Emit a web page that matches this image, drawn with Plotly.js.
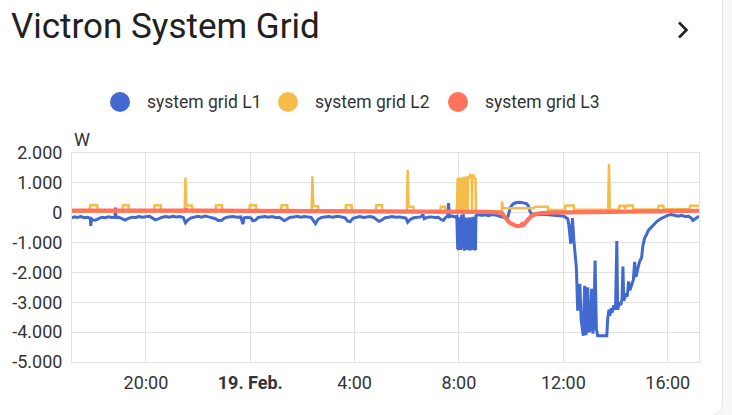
<!DOCTYPE html>
<html>
<head>
<meta charset="utf-8">
<script src="https://cdn.plot.ly/plotly-3.0.1.min.js"></script>
<style>
html,body{margin:0;padding:0;width:732px;height:415px;overflow:hidden;background:#f8f8f8;}
#card{position:absolute;left:-20px;top:-20px;width:743px;height:436px;background:#fff;border:1px solid #e3e3e3;border-radius:12px;box-sizing:border-box;}
#chart{position:absolute;left:0;top:0;width:732px;height:415px;}
</style>
</head>
<body>
<div id="card"></div>
<div id="chart"></div>
<script>
const DAY_PREFIX = '2025-02-';
const seriesNames = ['system grid L1', 'system grid L2', 'system grid L3'];
const seriesColors = ['#4269d0', '#f4bd4a', '#ff725c'];

const l1Points = [
["18 17:10",-170],["18 17:16",-140],["18 17:22",-160],["18 17:30",-130],["18 17:38",-170],["18 17:46",-150],["18 17:52",-190],["18 17:53",-440],["18 17:55",-210],["18 17:58",-240],["18 18:04",-250],["18 18:10",-200],["18 18:18",-150],["18 18:26",-170],["18 18:34",-140],["18 18:42",-160],["18 18:49",-150],["18 18:50",170],["18 18:51",-160],["18 18:58",-150],["18 19:06",-220],["18 19:12",-250],["18 19:20",-190],["18 19:28",-150],["18 19:36",-160],["18 19:44",-130],["18 19:52",-150],["18 20:00",-140],["18 20:08",-120],["18 20:16",-190],["18 20:22",-240],["18 20:30",-200],["18 20:38",-150],["18 20:46",-130],["18 20:54",-150],["18 21:02",-120],["18 21:10",-140],["18 21:18",-130],["18 21:26",-160],["18 21:31",-340],["18 21:36",-250],["18 21:44",-170],["18 21:52",-140],["18 22:00",-120],["18 22:08",-150],["18 22:16",-110],["18 22:24",-140],["18 22:32",-160],["18 22:40",-200],["18 22:46",-260],["18 22:54",-250],["18 23:02",-170],["18 23:10",-140],["18 23:20",-130],["18 23:30",-150],["18 23:38",-140],["18 23:43",-380],["18 23:46",-170],["18 23:54",-150],
["19 00:02",-180],["19 00:06",-270],["19 00:12",-250],["19 00:18",-160],["19 00:26",-140],["19 00:34",-130],["19 00:42",-150],["19 00:50",-130],["19 00:58",-160],["19 01:06",-150],["19 01:12",-200],["19 01:18",-270],["19 01:24",-220],["19 01:32",-150],["19 01:40",-140],["19 01:48",-120],["19 01:56",-150],["19 02:04",-130],["19 02:12",-140],["19 02:20",-160],["19 02:24",-240],["19 02:30",-370],["19 02:36",-220],["19 02:44",-160],["19 02:52",-140],["19 03:00",-130],["19 03:10",-150],["19 03:20",-120],["19 03:30",-140],["19 03:38",-170],["19 03:44",-280],["19 03:50",-300],["19 03:56",-190],["19 04:04",-150],["19 04:12",-130],["19 04:20",-160],["19 04:28",-140],["19 04:36",-130],["19 04:44",-160],["19 04:50",-230],["19 04:56",-290],["19 05:02",-250],["19 05:10",-170],["19 05:18",-150],["19 05:26",-130],["19 05:34",-150],["19 05:42",-140],["19 05:50",-160],["19 05:58",-180],["19 06:02",-320],["19 06:08",-230],["19 06:16",-170],["19 06:24",-150],["19 06:32",-140],["19 06:37",-60],["19 06:40",-200],["19 06:48",-150],["19 06:56",-140],["19 07:04",-160],["19 07:12",-150],["19 07:18",-220],["19 07:24",-260],["19 07:30",-150],["19 07:34",-120],["19 07:36",320],["19 07:38",-130],["19 07:44",-110],["19 07:50",-140],["19 07:55",-120],
["19 07:56",-1200],["19 07:57",-1210],["19 07:58",-200],["19 07:59",-1200],["19 08:01",-1190],["19 08:02",-150],["19 08:03",-1200],["19 08:05",-1200],["19 08:06",-110],["19 08:10",-100],["19 08:11",-1200],["19 08:12",-180],["19 08:13",-1210],["19 08:15",-1200],["19 08:16",-160],["19 08:17",-1200],["19 08:19",-1190],["19 08:20",-200],["19 08:21",-1200],["19 08:23",-1210],["19 08:24",-150],["19 08:25",-1200],["19 08:27",-1200],["19 08:28",-170],["19 08:29",-1200],["19 08:31",-1190],["19 08:32",-140],["19 08:33",-1200],["19 08:35",-1210],["19 08:36",-160],["19 08:37",-1200],["19 08:38",-1200],["19 08:39",-100],
["19 08:46",-60],["19 08:52",-90],["19 09:00",-70],["19 09:08",-100],["19 09:16",-60],["19 09:24",-80],["19 09:32",-110],["19 09:40",-130],["19 09:46",-170],["19 09:50",-220],["19 09:54",-60],["19 09:58",180],["19 10:04",290],["19 10:12",340],["19 10:20",350],["19 10:28",330],["19 10:36",300],["19 10:40",210],["19 10:44",20],["19 10:48",-60],["19 10:56",-40],["19 11:04",-70],["19 11:12",-50],["19 11:20",-60],["19 11:30",-80],["19 11:40",-90],["19 11:50",-100],["19 12:00",-110],["19 12:06",-150],["19 12:10",-200],
["19 12:13",-450],["19 12:17",-1040],["19 12:19",-600],["19 12:21",-180],["19 12:24",-900],["19 12:28",-1500],["19 12:30",-1850],["19 12:33",-3280],["19 12:36",-2800],["19 12:38",-2380],["19 12:41",-3600],["19 12:44",-4000],["19 12:46",-4120],["19 12:49",-2450],["19 12:52",-4100],["19 12:54",-3800],["19 12:56",-2500],["19 12:59",-4000],["19 13:02",-3900],["19 13:05",-2550],["19 13:08",-4050],["19 13:10",-3700],["19 13:13",-1600],["19 13:16",-3900],["19 13:19",-4120],["19 13:40",-4120],["19 13:42",-3550],["19 13:45",-3250],["19 13:47",-3450],["19 13:50",-3200],["19 13:52",-3350],["19 13:56",-3100],["19 14:00",-3250],["19 14:03",-950],["19 14:05",-3250],["19 14:09",-3000],["19 14:12",-3100],["19 14:15",-2900],["19 14:17",-1800],["19 14:19",-2950],["19 14:23",-2750],["19 14:27",-2800],["19 14:30",-2300],["19 14:33",-2600],["19 14:37",-2450],["19 14:41",-2250],["19 14:44",-1650],["19 14:47",-2150],["19 14:51",-1900],["19 14:55",-1650],["19 15:00",-1500],["19 15:03",-1100],["19 15:07",-850],["19 15:11",-750],["19 15:15",-600],["19 15:20",-520],["19 15:25",-450],["19 15:30",-380],["19 15:36",-280],["19 15:44",-200],["19 15:52",-140],["19 16:00",-90],["19 16:08",-60],["19 16:16",-100],["19 16:24",-120],["19 16:32",-90],["19 16:40",-130],["19 16:48",-120],["19 16:54",-180],["19 16:58",-260],["19 17:04",-200],["19 17:12",-120]
];

const l2Points = [
["18 17:10",40],["18 17:50",40],["18 17:52",260],["18 18:08",250],["18 18:10",40],["18 19:06",40],["18 19:07",250],["18 19:20",250],["18 19:21",40],["18 20:19",40],["18 20:20",250],["18 20:34",250],["18 20:35",40],["18 21:29",40],["18 21:31",1180],["18 21:33",240],["18 21:46",240],["18 21:47",40],["18 22:40",40],["18 22:41",250],["18 22:55",250],["18 22:56",40],["18 23:58",40],["18 23:59",250],
["19 00:13",250],["19 00:14",40],["19 01:11",40],["19 01:12",250],["19 01:25",250],["19 01:26",40],["19 02:21",40],["19 02:23",1220],["19 02:25",220],["19 02:36",220],["19 02:37",40],["19 03:39",40],["19 03:40",250],["19 03:53",250],["19 03:54",40],["19 04:49",40],["19 04:50",250],["19 05:03",250],["19 05:04",40],["19 06:00",40],["19 06:02",1440],["19 06:04",200],["19 06:15",200],["19 06:16",40],["19 07:17",40],["19 07:18",200],["19 07:28",200],["19 07:29",40],["19 07:55",40],
["19 07:56",1150],["19 07:57",1150],["19 07:58",60],["19 07:59",1140],["19 08:02",1140],["19 08:03",80],["19 08:04",1140],["19 08:05",1140],["19 08:06",40],["19 08:10",40],["19 08:11",1160],["19 08:13",1160],["19 08:14",100],["19 08:15",1170],["19 08:19",1170],["19 08:20",80],["19 08:21",1200],["19 08:25",1200],["19 08:26",1260],["19 08:29",1240],["19 08:30",100],["19 08:31",1250],["19 08:34",1250],["19 08:35",1160],["19 08:38",1150],["19 08:39",30],
["19 09:38",30],["19 09:39",380],["19 09:41",150],["19 10:52",150],["19 10:54",200],["19 11:24",200],["19 11:25",90],["19 12:04",100],["19 12:05",240],["19 12:24",240],["19 12:25",100],["19 13:43",100],["19 13:45",1640],["19 13:47",100],["19 14:08",110],["19 14:09",230],["19 14:20",230],["19 14:22",130],["19 14:26",240],["19 14:40",240],["19 14:41",110],["19 15:38",110],["19 15:39",230],["19 15:50",230],["19 15:51",120],["19 16:50",120],["19 16:52",230],["19 17:12",230]
];

const l3Points = [
["18 17:10",70],["18 18:00",75],["18 19:00",70],["18 20:00",72],["18 21:00",70],["18 21:31",70],["18 21:32",150],["18 21:33",70],["18 22:00",72],["18 23:00",70],["19 00:00",70],["19 01:00",72],["19 02:00",70],["19 03:00",70],["19 04:00",72],["19 05:00",70],["19 06:00",70],["19 07:00",68],["19 07:56",60],["19 08:40",40],["19 09:00",30],["19 09:20",20],["19 09:38",0],["19 09:44",-120],["19 09:50",-230],["19 09:56",-330],["19 10:02",-380],["19 10:08",-430],["19 10:14",-450],["19 10:22",-440],["19 10:25",-380],["19 10:28",-410],["19 10:34",-320],["19 10:40",-200],["19 10:46",-120],["19 10:54",-60],["19 11:05",-20],["19 11:30",0],["19 12:00",10],["19 13:00",20],["19 14:00",35],["19 15:00",45],["19 16:00",55],["19 17:12",65]
];

const xRange = ['18 17:10', '19 17:12'];
const xTickVals = ['18 20:00', '19 00:00', '19 04:00', '19 08:00', '19 12:00', '19 16:00'];
const xTickLabels = ['20:00', '<b>19. Feb.</b>', '4:00', '8:00', '12:00', '16:00'];
const yTickVals = [2000, 1000, 0, -1000, -2000, -3000, -4000, -5000];
const yTickLabels = ['2.000', '1.000', '0', '-1.000', '-2.000', '-3.000', '-4.000', '-5.000'];
const yRange = [-5000, 2000];
const unitLabel = 'W';
const titleText = 'Victron System Grid';

const toDate = s => DAY_PREFIX + s;

const W = 732, H = 415, ML = 72, MR = 33, MT = 153, MB = 53;
const PW = W - ML - MR, PH = H - MT - MB;
const px = x => (x - ML) / PW;
const py = y => (H - MB - y) / PH;

const allPoints = [l1Points, l2Points, l3Points];
const widths = [3, 2.5, 4.2];
const traces = allPoints.map((pts, i) => ({
  type: 'scatter', mode: 'lines', name: seriesNames[i],
  x: pts.map(p => toDate(p[0])), y: pts.map(p => p[1]),
  line: {color: seriesColors[i], width: widths[i], shape: 'linear'},
  showlegend: false, hoverinfo: 'skip'
}));

const font = {family: 'Roboto, sans-serif', size: 18, color: '#333'};
const legendFont = {family: 'Roboto, sans-serif', size: 17.5, color: '#333'};
const gridC = '#e2e2e2';

const legendX = [120, 288, 458];
const shapes = [];
const annotations = [];
legendX.forEach((cx, i) => {
  shapes.push({type: 'circle', xref: 'paper', yref: 'paper',
    x0: px(cx - 10), x1: px(cx + 10), y0: py(112), y1: py(92),
    fillcolor: seriesColors[i], line: {width: 0}});
  annotations.push({xref: 'paper', yref: 'paper', x: px(cx + 25), y: py(102),
    xanchor: 'left', yanchor: 'middle', text: seriesNames[i], showarrow: false, font: legendFont});
});
shapes.push({type: 'path', xref: 'paper', yref: 'paper',
  path: `M ${px(679)},${py(22.5)} L ${px(686.5)},${py(30)} L ${px(679)},${py(37.5)}`,
  line: {color: '#212121', width: 2.6}});
annotations.push({xref: 'paper', yref: 'paper', x: px(72), y: py(139),
  xanchor: 'left', yanchor: 'middle', text: unitLabel, showarrow: false, font: font});

const layout = {
  width: W, height: H,
  margin: {l: ML, r: MR, t: MT, b: MB, pad: 0},
  paper_bgcolor: 'rgba(0,0,0,0)', plot_bgcolor: 'rgba(0,0,0,0)',
  title: {text: titleText, xref: 'container', yref: 'container', x: 11 / W, xanchor: 'left',
    y: 1 - 26 / H, yanchor: 'middle', font: {family: 'Roboto, sans-serif', size: 35, color: '#212121'}},
  xaxis: {type: 'date', range: xRange.map(toDate), tickvals: xTickVals.map(toDate), ticktext: xTickLabels,
    showgrid: true, gridcolor: gridC, gridwidth: 1, showline: true, linecolor: gridC, linewidth: 1, mirror: true,
    zeroline: false, ticks: '', tickfont: font, ticklabelstandoff: 4, fixedrange: true},
  yaxis: {range: yRange, tickvals: yTickVals, ticktext: yTickLabels,
    showgrid: true, gridcolor: gridC, gridwidth: 1, showline: true, linecolor: gridC, linewidth: 1, mirror: true,
    zeroline: false, ticks: '', tickfont: font, ticklabelstandoff: 5, fixedrange: true},
  shapes: shapes, annotations: annotations, showlegend: false
};

Plotly.newPlot('chart', traces, layout, {displayModeBar: false, staticPlot: true});
</script>
</body>
</html>
